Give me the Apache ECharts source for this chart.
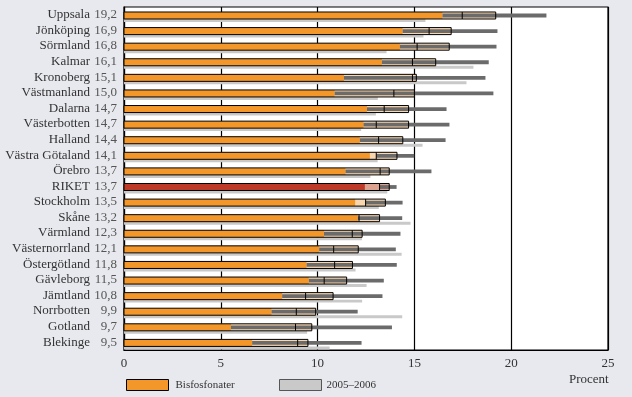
<!DOCTYPE html>
<html><head><meta charset="utf-8">
<script src="https://cdn.jsdelivr.net/npm/echarts@6/dist/echarts.min.js"></script>
<style>html,body{margin:0;padding:0;background:#e8e9ee}#c{width:632px;height:397px}</style>
</head><body><div id="c"></div>
<script>
const regions = ['Uppsala','Jönköping','Sörmland','Kalmar','Kronoberg','Västmanland','Dalarna','Västerbotten','Halland','Västra Götaland','Örebro','RIKET','Stockholm','Skåne','Värmland','Västernorrland','Östergötland','Gävleborg','Jämtland','Norrbotten','Gotland','Blekinge'];
const total = [19.2,16.9,16.8,16.1,15.1,15.0,14.7,14.7,14.4,14.1,13.7,13.7,13.5,13.2,12.3,12.1,11.8,11.5,10.8,9.9,9.7,9.5];
const bisfosfonater = [16.45,14.39,14.25,13.32,11.36,10.88,12.55,12.37,12.18,12.7,11.44,12.44,11.94,12.08,10.33,10.08,9.43,9.55,8.17,7.62,5.52,6.62];
const rangeLow = [16.45,14.39,14.25,13.32,11.36,10.88,12.55,12.37,12.18,13.03,11.44,13.2,12.48,12.08,10.33,10.08,9.43,9.55,8.17,7.62,5.52,6.62];
const rangeHigh = [21.82,19.29,19.24,18.84,18.67,19.08,16.66,16.81,16.61,14.99,15.88,14.08,14.39,14.37,14.28,14.04,14.09,13.42,13.35,12.07,13.84,12.27];
const tickMark = [17.47,15.76,15.14,14.9,14.9,13.94,13.44,13.03,13.15,13.03,13.23,13.2,12.48,12.14,11.79,10.83,10.88,10.34,9.38,8.9,8.86,8.97];
const prev0506 = [15.57,15.47,13.56,18.05,17.69,13.11,13.01,12.25,15.42,13.1,12.73,13.6,13.16,14.8,12.29,14.34,11.96,12.53,12.3,14.37,9.46,10.62];
const xTicks = [0,5,10,15,20,25];

const FONT = '"Liberation Serif", "DejaVu Serif", serif';
const ORANGE = '#F4972B', PEACH = '#FAD6AE', DARK = '#6B6B6B', GREY = '#C9C9C9';
const RED = '#BC3A27', LRED = '#DDA18F';

const fmt = v => v.toFixed(1).replace('.', ',');

const mainData = regions.map((r, i) => [i, bisfosfonater[i], total[i], rangeLow[i], rangeHigh[i], tickMark[i]]);
const prevData = regions.map((r, i) => [i, prev0506[i]]);

function bandGeom(api, i) {
  const yc = api.coord([0, i])[1];
  const bw = api.size([0, 1])[1];
  const top = yc - bw / 2;
  return { top, bw };
}

function renderMain(params, api) {
  const i = api.value(0);
  const a = api.value(1), t = api.value(2), lo = api.value(3), hi = api.value(4), m = api.value(5);
  const { top, bw } = bandGeom(api, i);
  const y0 = top + bw * 0.32, y1 = top + bw * 0.77;
  const h = y1 - y0;
  const x0 = api.coord([0, i])[0];
  const xa = api.coord([a, i])[0], xt = api.coord([t, i])[0];
  const xl = api.coord([lo, i])[0], xh = api.coord([hi, i])[0], xm = api.coord([m, i])[0];
  const isRiket = regions[i] === 'RIKET';
  const fillMain = isRiket ? RED : ORANGE;
  const fillLight = isRiket ? LRED : PEACH;
  const yc = (y0 + y1) / 2;
  const lh = 3.8;
  return {
    type: 'group',
    children: [
      { type: 'rect', shape: { x: x0, y: y0, width: xt - x0, height: h }, style: { fill: fillLight } },
      { type: 'rect', shape: { x: x0, y: y0, width: xa - x0, height: h }, style: { fill: fillMain } },
      { type: 'rect', shape: { x: xl, y: yc - lh / 2, width: xh - xl, height: lh }, style: { fill: DARK } },
      { type: 'line', shape: { x1: xm, y1: y0, x2: xm, y2: y1 }, style: { stroke: '#000', lineWidth: 1 } },
      { type: 'rect', shape: { x: x0, y: y0, width: xt - x0, height: h }, style: { fill: null, stroke: '#000', lineWidth: 1 } }
    ]
  };
}

function renderPrev(params, api) {
  const i = api.value(0);
  const g = api.value(1);
  const { top, bw } = bandGeom(api, i);
  const y0 = top + bw * 0.77, y1 = top + bw * 0.96;
  const x0 = api.coord([0, i])[0], xg = api.coord([g, i])[0];
  return { type: 'rect', shape: { x: x0, y: y0, width: xg - x0, height: y1 - y0 }, style: { fill: GREY } };
}

const chart = echarts.init(document.getElementById('c'), null, { renderer: 'canvas' });
chart.setOption({
  backgroundColor: '#e8e9ee',
  animation: false,
  textStyle: { fontFamily: FONT },
  grid: { left: 124, right: 24, top: 7, bottom: 47, show: true, backgroundColor: '#fff', borderColor: '#000', borderWidth: 1.2 },
  xAxis: {
    type: 'value', min: xTicks[0], max: xTicks[xTicks.length - 1], interval: 5,
    axisLine: { show: true, lineStyle: { color: '#000', width: 1.2 } },
    axisTick: { show: false },
    splitLine: { show: true, lineStyle: { color: '#000', width: 1.2 } },
    axisLabel: { margin: 7, fontSize: 13, color: '#333', fontFamily: FONT }
  },
  yAxis: {
    type: 'category', data: regions, inverse: true,
    axisLine: { show: true, lineStyle: { color: '#000', width: 1.2 } },
    axisTick: { show: false },
    axisLabel: {
      interval: 0, margin: 7, fontFamily: FONT,
      formatter: (v, idx) => '{n|' + v + '}{v|' + fmt(total[idx]) + '}',
      rich: {
        n: { fontSize: 13, color: '#333', fontFamily: FONT, align: 'right' },
        v: { fontSize: 13, color: '#555', fontFamily: FONT, width: 27, align: 'right' }
      }
    }
  },
  legend: [
    { left: 121, top: 374, itemWidth: 42, itemHeight: 11, itemGap: 10, selectedMode: false,
      textStyle: { fontSize: 11, color: '#333', fontFamily: FONT, padding: [0, 0, 0, 2] },
      data: [{ name: 'Bisfosfonater', icon: 'rect', itemStyle: { color: ORANGE, borderColor: '#000', borderWidth: 1 } }] },
    { left: 274, top: 374, itemWidth: 42, itemHeight: 11, selectedMode: false,
      textStyle: { fontSize: 11, color: '#333', fontFamily: FONT },
      data: [{ name: '2005–2006', icon: 'rect', itemStyle: { color: GREY, borderColor: '#555', borderWidth: 1 } }] }
  ],
  graphic: [
    { type: 'text', left: 569, top: 373, style: { text: 'Procent', fontSize: 13, fill: '#333', fontFamily: FONT } }
  ],
  series: [
    { name: '2005–2006', type: 'custom', renderItem: renderPrev, data: prevData, encode: { x: 1, y: 0 }, itemStyle: { color: GREY }, z: 2 },
    { name: 'Bisfosfonater', type: 'custom', renderItem: renderMain, data: mainData, encode: { x: [1, 2, 3, 4, 5], y: 0 }, itemStyle: { color: ORANGE }, z: 3 }
  ]
});
</script>
</body></html>
